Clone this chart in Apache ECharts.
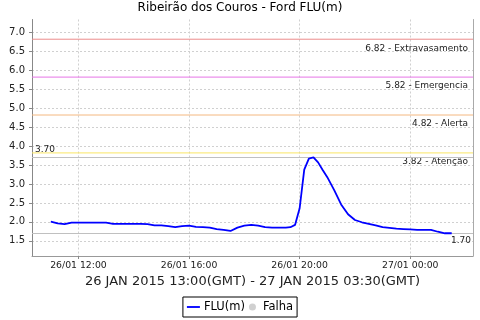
<!DOCTYPE html>
<html>
<head>
<meta charset="utf-8">
<script src="https://cdn.jsdelivr.net/npm/echarts@6/dist/echarts.min.js"></script>
<style>
  html, body { margin: 0; padding: 0; background: #fff; }
  #chart { width: 480px; height: 320px; }
</style>
</head>
<body>
<div id="chart"></div>
<script>
// leituras de nível (hora local)
var times = [
  '26/01 11:00', '26/01 11:15', '26/01 11:30', '26/01 11:45',
  '26/01 12:00', '26/01 12:15', '26/01 12:30', '26/01 12:45',
  '26/01 13:00', '26/01 13:15', '26/01 13:30', '26/01 13:45',
  '26/01 14:00', '26/01 14:15', '26/01 14:30', '26/01 14:45',
  '26/01 15:00', '26/01 15:15', '26/01 15:30', '26/01 15:45',
  '26/01 16:00', '26/01 16:15', '26/01 16:30', '26/01 16:45',
  '26/01 17:00', '26/01 17:15', '26/01 17:30', '26/01 17:45',
  '26/01 18:00', '26/01 18:15', '26/01 18:30', '26/01 18:45',
  '26/01 19:00', '26/01 19:15', '26/01 19:30', '26/01 19:40',
  '26/01 19:50', '26/01 20:00', '26/01 20:10', '26/01 20:20',
  '26/01 20:30', '26/01 20:40', '26/01 20:50', '26/01 21:00',
  '26/01 21:15', '26/01 21:30', '26/01 21:45', '26/01 22:00',
  '26/01 22:15', '26/01 22:30', '26/01 22:45', '26/01 23:00',
  '26/01 23:15', '26/01 23:30', '26/01 23:45', '27/01 00:00',
  '27/01 00:15', '27/01 00:30', '27/01 00:45', '27/01 01:00',
  '27/01 01:15', '27/01 01:30'
];
var levels = [
  2.01, 1.96, 1.94, 1.98,
  1.98, 1.98, 1.98, 1.98,
  1.98, 1.95, 1.95, 1.95,
  1.95, 1.95, 1.94, 1.91,
  1.91, 1.89, 1.86, 1.89,
  1.90, 1.87, 1.86, 1.85,
  1.81, 1.79, 1.76, 1.85,
  1.90, 1.92, 1.90, 1.86,
  1.85, 1.85, 1.85, 1.86,
  1.92, 2.36, 3.38, 3.67,
  3.70, 3.57, 3.37, 3.18,
  2.84, 2.46, 2.20, 2.05,
  1.99, 1.95, 1.91, 1.86,
  1.84, 1.82, 1.81, 1.80,
  1.79, 1.79, 1.79, 1.74,
  1.70, 1.70
];

var xTickLabels = ['26/01 12:00', '26/01 16:00', '26/01 20:00', '27/01 00:00'];
var yTicks = [1.5, 2.0, 2.5, 3.0, 3.5, 4.0, 4.5, 5.0, 5.5, 6.0, 6.5, 7.0];

// cotas de referência
var limitValues = [6.82, 5.82, 4.82, 3.82];
var limitNames = ['Extravasamento', 'Emergencia', 'Alerta', 'Atenção'];
var limitColors = ['#ec8c8c', '#e674e6', '#f4b880', '#fae664'];

var fontFamily = 'DejaVu Sans';
var xMin = 10.32, xMax = 26.27;
var yMin = 1.1, yMax = 7.34;

// horas a partir de 26/01 00:00
function toHours(s) {
  var day = parseInt(s.substr(0, 2), 10);
  var h = parseInt(s.substr(6, 2), 10);
  var m = parseInt(s.substr(9, 2), 10);
  return (day - 26) * 24 + h + m / 60;
}

function hoursLabel(v) {
  for (var i = 0; i < xTickLabels.length; i++) {
    if (Math.abs(toHours(xTickLabels[i]) - v) < 1e-6) return xTickLabels[i];
  }
  return '';
}

var seriesData = times.map(function (t, i) { return [toHours(t), levels[i]]; });
var xTickValues = xTickLabels.map(toHours);

var markLabel = { fontSize: 9, color: '#222', fontFamily: fontFamily };

var series = [{
  name: 'FLU(m)',
  type: 'line',
  data: seriesData,
  showSymbol: false,
  symbol: 'none',
  z: 5,
  itemStyle: { color: '#0000ff' },
  lineStyle: { color: '#0000ff', width: 1.8 },
  markLine: {
    silent: true,
    symbol: 'none',
    lineStyle: { type: 'solid', width: 1, color: '#c0c0c0' },
    label: markLabel,
    data: [{
      type: 'max',
      label: {
        position: 'insideStartTop',
        distance: [3, 3],
        formatter: function (p) { return p.value.toFixed(2); }
      }
    }, {
      type: 'min',
      label: {
        position: 'insideEndBottom',
        distance: [2, 3],
        formatter: function (p) { return p.value.toFixed(2); }
      }
    }]
  }
}, {
  name: 'Falha',
  type: 'scatter',
  data: [],
  itemStyle: { color: '#c4c4c4' }
}];

// cotas como linhas horizontais de ponta a ponta
limitValues.forEach(function (v, i) {
  series.push({
    name: limitNames[i],
    type: 'line',
    silent: true,
    z: 3,
    symbol: 'circle',
    symbolSize: 0,
    showSymbol: true,
    itemStyle: { color: limitColors[i] },
    lineStyle: { color: limitColors[i], width: 1 },
    data: [
      [xMin, v],
      {
        value: [xMax, v],
        label: Object.assign({
          show: true,
          position: 'left',
          distance: 5,
          offset: [0, 9],
          formatter: v.toFixed(2) + ' - ' + limitNames[i]
        }, markLabel)
      }
    ]
  });
});

var chart = echarts.init(document.getElementById('chart'));

var option = {
  animation: false,
  textStyle: { fontFamily: fontFamily },
  title: {
    text: 'Ribeirão dos Couros - Ford FLU(m)',
    left: 'center',
    top: 2,
    padding: 0,
    textStyle: { fontSize: 12, fontWeight: 'normal', color: '#000', fontFamily: fontFamily }
  },
  legend: {
    left: 'center',
    top: 297,
    padding: [4, 4],
    itemGap: 4,
    itemWidth: 13,
    itemHeight: 7,
    borderColor: '#000',
    borderWidth: 1,
    textStyle: { fontSize: 11.5, color: '#000', fontFamily: fontFamily, padding: [0, 0, 0, -1] },
    data: [
      { name: 'FLU(m)', icon: 'path://M0,0 L14,0 L14,2 L0,2 Z' },
      { name: 'Falha', icon: 'circle' }
    ]
  },
  grid: { left: 32, right: 7, top: 19.5, bottom: 64 },
  xAxis: {
    type: 'value',
    min: xMin,
    max: xMax,
    name: '26 JAN 2015 13:00(GMT) - 27 JAN 2015 03:30(GMT)',
    nameLocation: 'middle',
    nameGap: 18,
    nameTextStyle: { fontSize: 13, color: '#222', fontFamily: fontFamily },
    axisLine: { lineStyle: { color: '#999' } },
    axisTick: { length: 3, customValues: xTickValues, lineStyle: { color: '#888' } },
    axisLabel: {
      customValues: xTickValues,
      margin: 5,
      fontSize: 9.3,
      color: '#222',
      formatter: hoursLabel
    },
    splitLine: { show: true, lineStyle: { color: '#d0d0d0', type: [2, 2] } }
  },
  yAxis: [{
    type: 'value',
    min: yMin,
    max: yMax,
    axisLine: { show: true, lineStyle: { color: '#888' } },
    axisTick: { show: true, length: 3, customValues: yTicks, lineStyle: { color: '#888' } },
    axisLabel: {
      customValues: yTicks,
      margin: 7,
      fontSize: 10,
      color: '#222',
      formatter: function (v) { return v.toFixed(1); }
    },
    splitLine: { show: true, lineStyle: { color: '#d0d0d0', type: [2, 2] } }
  }, {
    type: 'value',
    position: 'right',
    min: yMin,
    max: yMax,
    axisLine: { show: true, lineStyle: { color: '#aaa' } },
    axisTick: { show: false },
    axisLabel: { show: false },
    splitLine: { show: false }
  }],
  series: series
};

chart.setOption(option);
</script>
</body>
</html>
